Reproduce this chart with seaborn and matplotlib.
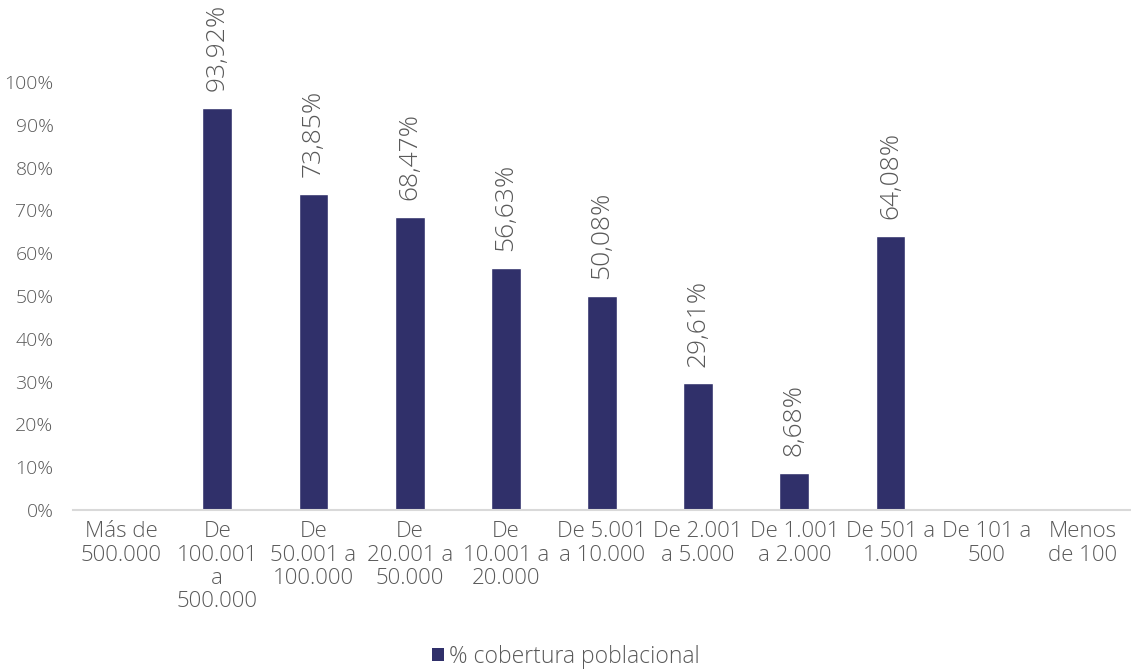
import matplotlib
matplotlib.use("Agg")
import matplotlib.pyplot as plt
import matplotlib.ticker as mticker
from matplotlib.patches import Patch
import numpy as np
import pandas as pd
import seaborn as sns

categories = [
    "Más de\n500.000", "De\n100.001\na\n500.000", "De\n50.001 a\n100.000",
    "De\n20.001 a\n50.000", "De\n10.001 a\n20.000", "De 5.001\na 10.000",
    "De 2.001\na 5.000", "De 1.001\na 2.000", "De 501 a\n1.000",
    "De 101 a\n500", "Menos\nde 100",
]
coverage = [np.nan, 93.92, 73.85, 68.47, 56.63, 50.08, 29.61, 8.68, 64.08, np.nan, np.nan]
series_name = "% cobertura poblacional"

bar_color = "#30306A"
text_color = "#595959"
axis_color = "#D9D9D9"

sns.set_theme(style="white")
plt.rcParams["font.family"] = ["Open Sans", "DejaVu Sans"]
plt.rcParams["font.weight"] = "light"

df = pd.DataFrame({"cat": categories, "val": [v / 100 for v in coverage]})

fig = plt.figure(figsize=(11.31, 6.70), dpi=100)
ax = fig.add_axes([73 / 1131, (670 - 510) / 670, 1 - 73 / 1131, (510 - 82) / 670])

sns.barplot(data=df, x="cat", y="val", color=bar_color, width=0.31,
            saturation=1, ax=ax, order=categories)

ax.set_ylim(0, 1)
ax.set_xlim(-0.5, len(categories) - 0.5)
ax.yaxis.set_major_locator(mticker.MultipleLocator(0.1))
ax.yaxis.set_major_formatter(mticker.FuncFormatter(lambda v, p: f"{v * 100:.0f}%"))
ax.set_xlabel("")
ax.set_ylabel("")

for s in ["top", "right", "left"]:
    ax.spines[s].set_visible(False)
ax.spines["bottom"].set_color(axis_color)
ax.spines["bottom"].set_linewidth(1.5)

ax.tick_params(axis="y", length=0, labelsize=14, labelcolor=text_color, pad=14)
ax.tick_params(axis="x", which="major", length=0, labelsize=16,
               labelcolor=text_color, pad=8)
ax.set_xticks(np.arange(-0.5, len(categories)), minor=True)
ax.tick_params(axis="x", which="minor", length=6, width=1.5, color=axis_color,
               direction="out")
for lbl in ax.get_xticklabels():
    lbl.set_linespacing(1.15)
for lbl in ax.get_xticklabels() + ax.get_yticklabels():
    lbl.set_fontweight("light")

for i, v in enumerate(coverage):
    if np.isnan(v):
        continue
    label = f"{v:.2f}%".replace(".", ",")
    ax.annotate(label, (i, v / 100), xytext=(0, 12), textcoords="offset points",
                rotation=90, ha="center", va="bottom", fontsize=19,
                fontweight="light", color=text_color, annotation_clip=False)

handles = [Patch(facecolor=bar_color, edgecolor="none", label=series_name)]
fig.legend(handles=handles, loc="center", bbox_to_anchor=(0.5, 0.02),
           frameon=False, prop={"size": 16.5, "weight": "light"},
           labelcolor=text_color,
           handlelength=0.55, handleheight=0.55, handletextpad=0.2)

fig.savefig("out.png", dpi=100)
